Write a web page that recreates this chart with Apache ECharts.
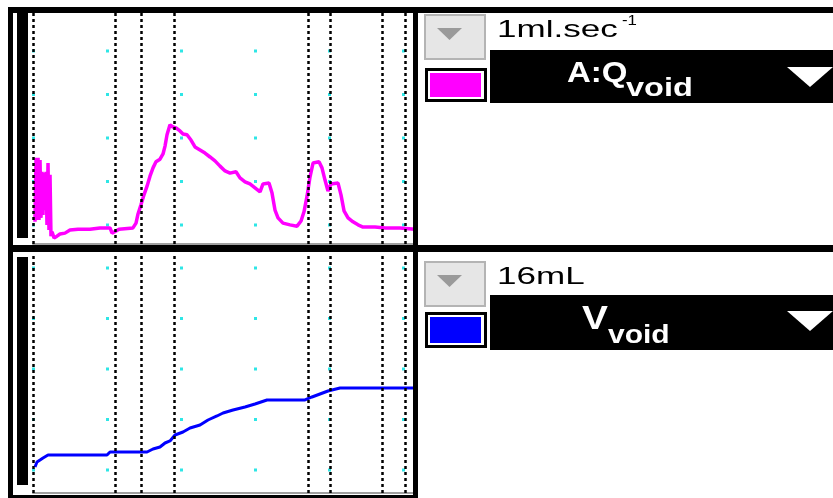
<!DOCTYPE html>
<html><head><meta charset="utf-8">
<script src="https://cdn.jsdelivr.net/npm/echarts@6/dist/echarts.min.js"></script>
<style>html,body{margin:0;padding:0;background:#fff}#c{width:833px;height:498px}</style>
</head><body><div id="c"></div>
<script>
// ---- data (time in s, flow in ml/s, volume in mL) ----
const flowTime = [0.27,0.41,0.54,0.68,0.81,0.95,1.08,1.22,1.35,1.49,1.62,1.76,1.89,2.03,2.16,2.30,2.43,2.57,2.84,3.24,3.65,4.32,5.00,6.08,7.70,9.05,10.41,10.68,11.22,11.62,13.51,13.92,14.19,14.59,15.00,15.41,15.81,16.22,16.62,17.16,17.57,17.84,18.11,18.51,18.92,19.32,19.86,20.27,20.81,21.35,21.89,22.57,23.24,23.92,24.59,25.27,25.95,26.62,27.43,27.97,28.65,29.32,30.00,30.68,31.08,31.89,32.30,32.70,33.11,33.78,34.73,35.68,36.22,36.62,37.03,37.43,37.84,38.65,39.05,39.46,39.86,40.27,41.22,41.62,42.03,42.57,43.24,43.92,44.59,46.22,47.57,49.59,51.62];
const flowRate = [0.51,1.98,0.55,1.98,0.55,1.93,0.60,1.66,0.67,1.63,0.78,1.66,0.44,1.86,0.32,1.59,0.18,0.28,0.14,0.18,0.23,0.25,0.32,0.34,0.34,0.37,0.37,0.25,0.30,0.34,0.37,0.48,0.69,0.90,1.13,1.33,1.56,1.75,1.89,1.95,2.07,2.25,2.51,2.74,2.69,2.67,2.60,2.53,2.51,2.39,2.23,2.16,2.09,2.00,1.91,1.79,1.68,1.63,1.66,1.52,1.43,1.38,1.29,1.20,1.38,1.40,1.17,0.78,0.60,0.48,0.44,0.41,0.53,0.74,1.10,1.54,1.86,1.89,1.75,1.47,1.22,1.38,1.40,1.13,0.76,0.60,0.51,0.44,0.39,0.39,0.37,0.37,0.34];
const volTime = [0.27,0.54,0.95,1.35,2.03,10.00,10.41,15.41,16.22,17.16,17.84,18.51,19.19,20.27,21.22,22.57,23.65,24.86,25.68,27.03,28.65,30.00,31.62,36.76,37.70,38.78,39.86,41.49,51.62];
const volume = [8.24,9.82,10.46,11.09,12.04,12.04,12.99,12.99,13.94,14.57,15.84,16.48,18.38,19.33,20.59,21.54,23.13,24.40,25.35,26.30,27.25,28.20,29.47,29.47,30.42,31.37,32.32,33.27,33.27];
const eventTimes = [0, 11.08, 14.59, 19.05, 37.16, 40.14, 47.16, 50.27];
const flowScaleText = '1ml.sec', flowScaleSup = '-1', flowName = 'A:Q', flowSub = 'void';
const volScaleText = '16mL', volName = 'V', volSub = 'void';
const flowColor = '#ff00ff', volColor = '#0000ff';

const zip = (a, b) => a.map((x, i) => [x, b[i]]);
const markers = {
  symbol: 'none', silent: true, animation: false, label: {show: false},
  lineStyle: {color: '#000', type: [3, 3], width: 2.5},
  data: eventTimes.map(t => ({xAxis: t}))
};
function xAx(gi, dash, off) {
  return {
    type: 'value', gridIndex: gi, min: 0, max: 51.62, interval: 10,
    axisLabel: {show: false}, axisTick: {show: false},
    axisLine: {show: true, onZero: false, lineStyle: {color: '#a0a0a0', width: 2}},
    splitLine: {show: true, lineStyle: {color: '#2ee6e6', width: 3, type: dash, dashOffset: off}}
  };
}
const B = '"Liberation Sans", Arial, sans-serif';
function txt(x, y, text, font, fill, sx) {
  return {type: 'text', x: x, y: y, scaleX: sx, z: 110,
    style: {text: text, font: font, fill: fill, verticalAlign: 'middle', textVerticalAlign: 'middle', align: 'left', textAlign: 'left'}};
}
function rect(x, y, w, h, fill, extra) {
  return Object.assign({type: 'rect', z: 100, shape: {x: x, y: y, width: w, height: h}, style: {fill: fill}}, extra || {});
}
function poly(pts, fill) { return {type: 'polygon', z: 110, shape: {points: pts}, style: {fill: fill}}; }

const graphics = [
  // frame
  rect(8, 7, 825, 6, '#000'),
  rect(8, 7, 5, 491, '#000'),
  rect(413, 7, 5, 491, '#000'),
  rect(8, 245, 825, 7, '#000'),
  rect(8, 495, 410, 3, '#000'),
  rect(17, 13, 11, 225, '#000'),
  rect(17, 257, 11, 228, '#000'),
  // top channel header
  rect(425, 15, 60, 44, '#e6e6e6', {style: {fill: '#e6e6e6', stroke: '#b4b4b4', lineWidth: 2}}),
  poly([[437, 28], [462, 28], [449.5, 40]], '#9a9a9a'),
  txt(497, 30, flowScaleText, '24px ' + B, '#000', 1.46),
  txt(622, 21, flowScaleSup, '14px ' + B, '#000', 1.2),
  rect(490, 50, 343, 53, '#000'),
  rect(425, 68, 62, 34, '#000'),
  rect(428, 71, 56, 28, '#fff'),
  rect(430, 73, 51, 24, flowColor),
  txt(567, 74, flowName, 'bold 30px ' + B, '#fff', 1.1),
  txt(626, 89, flowSub, 'bold 25px ' + B, '#fff', 1.3),
  poly([[787, 67], [833, 67], [810, 87]], '#fff'),
  // bottom channel header
  rect(425, 262, 60, 44, '#e6e6e6', {style: {fill: '#e6e6e6', stroke: '#b4b4b4', lineWidth: 2}}),
  poly([[437, 275], [462, 275], [449.5, 287]], '#9a9a9a'),
  txt(497, 277, volScaleText, '24px ' + B, '#000', 1.46),
  rect(490, 295, 343, 55, '#000'),
  rect(425, 312, 62, 36, '#000'),
  rect(428, 315, 56, 30, '#fff'),
  rect(430, 317, 51, 26, volColor),
  txt(582, 320, volName, 'bold 33px ' + B, '#fff', 1.18),
  txt(608, 336, volSub, 'bold 25px ' + B, '#fff', 1.2),
  poly([[787, 311], [833, 311], [810, 331]], '#fff')
];

const chart = echarts.init(document.getElementById('c'), null, {renderer: 'canvas'});
chart.setOption({
  animation: false,
  backgroundColor: '#fff',
  grid: [
    {left: 33, top: 13, width: 382, height: 231},
    {left: 33, top: 256, width: 382, height: 237}
  ],
  xAxis: [xAx(0, [3, 40.5], 7), xAx(1, [3, 47.5], 40)],
  yAxis: [
    {type: 'value', gridIndex: 0, min: 0, max: 5.31, show: false, splitLine: {show: false}},
    {type: 'value', gridIndex: 1, min: 0, max: 75.09, show: false, splitLine: {show: false}}
  ],
  series: [
    {type: 'line', xAxisIndex: 0, yAxisIndex: 0, data: zip(flowTime, flowRate), showSymbol: false,
      lineStyle: {color: flowColor, width: 3.5}, itemStyle: {color: flowColor}, markLine: markers, z: 3},
    {type: 'line', xAxisIndex: 1, yAxisIndex: 1, data: zip(volTime, volume), showSymbol: false,
      lineStyle: {color: volColor, width: 3}, itemStyle: {color: volColor}, markLine: markers, z: 3}
  ],
  graphic: {elements: graphics}
});
</script></body></html>
